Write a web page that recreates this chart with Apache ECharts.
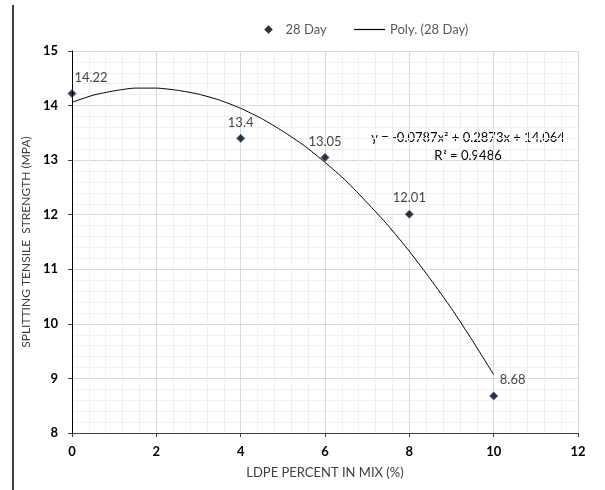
<!DOCTYPE html>
<html><head><meta charset="utf-8">
<script src="https://cdn.jsdelivr.net/npm/echarts@6/dist/echarts.min.js"></script>
<style>html,body{margin:0;padding:0;background:#fff}#c{width:605px;height:490px}</style>
</head><body><div id="c"></div>
<script>
const xValues = [0, 4, 6, 8, 10];
const day28 = [14.22, 13.4, 13.05, 12.01, 8.68];
const trendX = [0, 0.5, 1, 1.5, 2, 2.5, 3, 3.5, 4, 4.5, 5, 5.5, 6, 6.5, 7, 7.5, 8, 8.5, 9, 9.5, 10];
const trendY = [14.06, 14.19, 14.27, 14.32, 14.32, 14.28, 14.21, 14.10, 13.95, 13.76, 13.53,
                13.27, 12.96, 12.62, 12.22, 11.80, 11.33, 10.82, 10.28, 9.69, 9.07];
const equationText = ['y = -0.0787x² + 0.2873x + 14.064', 'R² = 0.9486'];
const xAxisName = 'LDPE PERCENT IN MIX (%)';
const yAxisName = 'SPLITTING TENSILE  STRENGTH (MPA)';
const seriesNames = ['28 Day', 'Poly. (28 Day)'];

const font = 'Lato, "Open Sans", sans-serif';
const shiftedLabels = [0, 4];
const chart = echarts.init(document.getElementById('c'), null, {renderer: 'canvas'});
const gridLines = {
  splitLine: {show: true, lineStyle: {color: '#d9d9d9', width: 1}},
  minorTick: {show: false, splitNumber: 5},
  minorSplitLine: {show: true, lineStyle: {color: '#f0f0f0', width: 1}}
};
chart.setOption({
  animation: false,
  textStyle: {fontFamily: font},
  grid: {left: 72, right: 27, top: 51, bottom: 57, containLabel: false},
  legend: [
    {
      top: 18, left: 259, itemWidth: 24, itemHeight: 8,
      textStyle: {fontSize: 13, color: '#595959', fontFamily: font},
      data: [{name: seriesNames[0], icon: 'path://M5,0 L10,5 L5,10 L0,5 Z',
              itemStyle: {color: '#000', borderColor: '#2f5597', borderWidth: 1}}]
    },
    {
      top: 18, left: 349, itemWidth: 31, itemHeight: 1.2,
      textStyle: {fontSize: 13, color: '#595959', fontFamily: font},
      data: [{name: seriesNames[1], icon: 'rect', itemStyle: {color: '#000'}}]
    }
  ],
  xAxis: Object.assign({
    type: 'value', min: 0, max: 12, interval: 2,
    name: xAxisName, nameLocation: 'middle', nameGap: 33,
    nameTextStyle: {fontSize: 13, color: '#404040'},
    axisLine: {lineStyle: {color: '#404040', width: 1}},
    axisTick: {show: true, length: 4, lineStyle: {color: '#404040'}},
    axisLabel: {fontSize: 13, fontWeight: 'bold', color: '#000', margin: 12}
  }, gridLines),
  yAxis: Object.assign({
    type: 'value', min: 8, max: 15, interval: 1,
    name: yAxisName, nameLocation: 'middle', nameGap: 38,
    nameTextStyle: {fontSize: 12, color: '#404040'},
    axisLine: {show: true, lineStyle: {color: '#000', width: 1}},
    axisTick: {show: true, length: 4, lineStyle: {color: '#404040'}},
    axisLabel: {fontSize: 13, fontWeight: 'bold', color: '#000', margin: 14}
  }, gridLines),
  series: [
    {
      name: seriesNames[1], type: 'line', smooth: 0.2, showSymbol: false, symbol: 'none',
      data: trendX.map((x, i) => [x, trendY[i]]),
      lineStyle: {color: '#000', width: 1}, itemStyle: {color: '#000'}, z: 3
    },
    {
      name: seriesNames[0], type: 'scatter', symbol: 'diamond', symbolSize: 8,
      data: xValues.map((x, i) => ({
        value: [x, day28[i]],
        label: shiftedLabels.includes(i) ? {offset: [19, 0]} : {}
      })),
      itemStyle: {color: '#000', borderColor: '#2f5597', borderWidth: 1},
      label: {show: true, position: 'top', distance: 5, fontSize: 13, color: '#111',
              formatter: p => String(p.value[1])},
      z: 5
    }
  ],
  graphic: [
    {type: 'line', shape: {x1: 13, y1: 5, x2: 13, y2: 490}, style: {stroke: '#000', lineWidth: 1.5}},
    {type: 'text', x: 468, y: 129,
     style: {text: equationText.join('\n'), fontSize: 13, fill: '#000', fontFamily: font,
             align: 'center', verticalAlign: 'top', lineHeight: 18}}
  ]
});
</script></body></html>
